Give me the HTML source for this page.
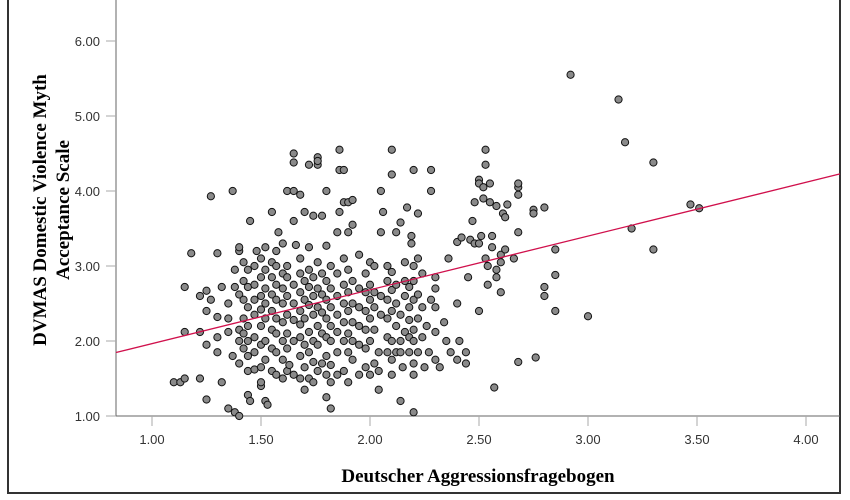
<!DOCTYPE html>
<html><head><meta charset="utf-8"><style>
html,body{margin:0;padding:0;background:#fff;}
svg{display:block;}
.tick{font-family:"Liberation Sans",sans-serif;font-size:13px;fill:#333;}
.ttl{font-family:"Liberation Serif",serif;font-size:19px;font-weight:bold;fill:#000;}
</style></head><body>
<svg id="chart" width="850" height="500" viewBox="0 0 850 500">
<rect x="8" y="-2" width="832" height="495" fill="#fff" stroke="#333" stroke-width="2"/>
<g id="grid"></g>
<g id="pts"></g>
<line id="fit" stroke="#d0104c" stroke-width="1.3"/>
<text class="ttl" x="478" y="482" text-anchor="middle">Deutscher Aggressionsfragebogen</text>
<g transform="translate(50,210) rotate(-90)">
<text class="ttl" x="0" y="-4" text-anchor="middle">DVMAS Domestic Violence Myth</text>
<text class="ttl" x="0" y="19" text-anchor="middle">Acceptance Scale</text>
</g>
</svg>
<script>
const xTicks=[1.0,1.5,2.0,2.5,3.0,3.5,4.0];
const yTicks=[1.0,2.0,3.0,4.0,5.0,6.0];
const fitIntercept=1.248;
const fitSlope=0.717;
const xVals=[1.10,1.13,1.15,1.15,1.15,1.18,1.22,1.22,1.22,1.25,1.25,1.25,1.25,1.27,1.27,1.30,1.30,1.30,1.30,1.32,1.32,1.35,1.35,1.35,1.35,1.37,1.37,1.38,1.38,1.38,1.40,1.40,1.40,1.40,1.40,1.40,1.40,1.42,1.42,1.42,1.42,1.42,1.42,1.44,1.44,1.44,1.44,1.44,1.44,1.44,1.44,1.45,1.45,1.47,1.47,1.47,1.47,1.47,1.47,1.47,1.48,1.50,1.50,1.50,1.50,1.50,1.50,1.50,1.50,1.50,1.52,1.52,1.52,1.52,1.52,1.52,1.52,1.52,1.53,1.55,1.55,1.55,1.55,1.55,1.55,1.55,1.55,1.57,1.57,1.57,1.57,1.57,1.57,1.57,1.57,1.58,1.60,1.60,1.60,1.60,1.60,1.60,1.60,1.60,1.62,1.62,1.62,1.62,1.62,1.62,1.62,1.62,1.63,1.65,1.65,1.65,1.65,1.65,1.65,1.65,1.65,1.65,1.66,1.68,1.68,1.68,1.68,1.68,1.68,1.68,1.68,1.68,1.70,1.70,1.70,1.70,1.70,1.70,1.70,1.72,1.72,1.72,1.72,1.72,1.72,1.72,1.72,1.74,1.74,1.74,1.74,1.74,1.74,1.74,1.76,1.76,1.76,1.76,1.76,1.76,1.76,1.76,1.76,1.78,1.78,1.78,1.78,1.78,1.78,1.80,1.80,1.80,1.80,1.80,1.80,1.80,1.80,1.80,1.82,1.82,1.82,1.82,1.82,1.82,1.82,1.82,1.85,1.85,1.85,1.85,1.85,1.85,1.85,1.86,1.86,1.86,1.88,1.88,1.88,1.88,1.88,1.88,1.88,1.88,1.90,1.90,1.90,1.90,1.90,1.90,1.90,1.90,1.92,1.92,1.92,1.92,1.92,1.92,1.92,1.95,1.95,1.95,1.95,1.95,1.95,1.98,1.98,1.98,1.98,1.98,1.98,2.00,2.00,2.00,2.00,2.00,2.00,2.02,2.02,2.02,2.02,2.02,2.04,2.04,2.04,2.05,2.05,2.05,2.05,2.06,2.08,2.08,2.08,2.08,2.08,2.08,2.10,2.10,2.10,2.10,2.10,2.10,2.10,2.10,2.12,2.12,2.12,2.12,2.12,2.14,2.14,2.14,2.14,2.14,2.15,2.16,2.16,2.16,2.16,2.17,2.18,2.18,2.18,2.18,2.18,2.19,2.19,2.20,2.20,2.20,2.20,2.20,2.20,2.20,2.20,2.20,2.22,2.22,2.22,2.22,2.22,2.24,2.24,2.24,2.25,2.26,2.27,2.28,2.28,2.28,2.30,2.30,2.30,2.30,2.30,2.32,2.34,2.35,2.36,2.37,2.40,2.40,2.40,2.41,2.42,2.44,2.44,2.45,2.46,2.47,2.48,2.48,2.50,2.50,2.50,2.50,2.51,2.52,2.52,2.53,2.53,2.53,2.54,2.54,2.55,2.55,2.56,2.56,2.57,2.58,2.58,2.58,2.60,2.60,2.60,2.61,2.62,2.62,2.63,2.66,2.68,2.68,2.68,2.68,2.68,2.75,2.75,2.76,2.80,2.80,2.80,2.85,2.85,2.85,2.92,3.00,3.14,3.17,3.20,3.30,3.30,3.47,3.51];
const yVals=[1.45,1.45,1.50,2.72,2.12,3.17,1.50,2.12,2.60,2.67,2.40,1.95,1.22,3.93,2.55,1.85,2.05,2.32,3.17,1.45,2.72,1.10,2.12,2.30,2.50,4.00,1.80,1.05,2.72,2.95,1.00,1.70,2.00,2.15,2.62,3.20,3.25,1.90,2.10,2.30,2.55,2.80,3.05,1.28,1.60,1.80,2.00,2.20,2.45,2.72,2.95,3.60,1.20,1.62,1.85,2.05,2.35,2.55,2.75,3.00,3.20,1.40,1.45,1.65,1.95,2.20,2.42,2.60,2.85,3.10,1.20,1.75,2.00,2.30,2.50,2.70,2.95,3.25,1.15,1.60,1.90,2.15,2.40,2.62,2.85,3.05,3.72,1.55,1.85,2.10,2.30,2.55,2.75,3.00,3.20,3.45,1.50,1.75,2.00,2.25,2.50,2.70,2.90,3.30,1.60,1.90,2.10,2.35,2.60,2.85,3.00,4.00,1.68,1.55,2.00,2.28,2.50,2.75,3.60,4.00,4.50,4.38,3.28,1.50,1.80,2.05,2.22,2.40,2.65,2.90,3.10,3.95,1.35,1.65,1.95,2.30,2.55,2.80,3.72,1.50,1.85,2.12,2.48,2.72,2.95,3.25,4.35,1.45,1.72,2.00,2.35,2.60,2.85,3.67,1.60,1.95,2.20,2.45,2.70,3.05,4.35,4.45,4.40,1.70,2.10,2.38,2.62,2.90,3.67,1.25,1.55,1.80,2.05,2.30,2.55,2.80,3.27,4.00,1.10,1.45,1.68,2.00,2.20,2.45,2.70,3.00,1.55,1.85,2.12,2.35,2.60,2.90,3.45,3.72,4.55,4.28,1.60,2.00,2.25,2.50,2.75,3.10,3.85,4.28,1.45,1.85,2.10,2.40,2.65,2.95,3.45,3.85,1.75,2.00,2.25,2.50,2.80,3.55,3.88,1.55,1.95,2.20,2.45,2.70,3.15,1.65,1.90,2.15,2.40,2.65,2.90,1.55,2.00,2.30,2.55,2.75,3.05,1.70,2.15,2.45,2.65,3.00,1.35,1.60,1.85,2.35,2.60,3.45,4.00,3.72,1.85,2.05,2.30,2.55,2.80,3.00,1.55,1.75,2.00,2.40,2.68,2.92,4.22,4.55,1.85,2.20,2.50,2.75,3.45,1.20,1.85,2.00,2.35,3.58,1.65,2.12,2.60,2.80,3.05,3.78,1.85,2.05,2.28,2.45,2.72,3.30,3.40,1.05,1.55,1.70,2.00,2.15,2.55,2.80,3.00,4.28,1.85,2.30,2.62,3.10,3.70,2.05,2.45,2.90,1.65,2.20,1.85,2.55,4.00,4.28,1.75,2.12,2.45,2.70,2.85,1.65,2.25,2.00,3.10,1.85,1.75,2.50,3.32,2.00,3.38,1.70,1.85,2.85,3.35,3.60,3.30,3.85,2.40,3.30,4.15,4.10,3.40,4.05,3.90,3.10,4.55,4.35,2.75,3.00,3.85,4.10,3.25,3.40,1.38,2.85,2.95,3.80,3.05,3.15,2.65,3.70,3.65,3.22,3.82,3.10,4.05,4.10,3.95,3.45,1.72,3.75,3.70,1.78,2.72,2.60,3.78,2.88,2.40,3.22,5.55,2.33,5.22,4.65,3.50,4.38,3.22,3.82,3.77];
const NS='http://www.w3.org/2000/svg';
const L=116,R=840,B=416;
function sx(v){return 152+(v-1)*218;}
function sy(v){return 416-(v-1)*75;}
const g=document.getElementById('grid');
function mk(tag,attrs,parent){const e=document.createElementNS(NS,tag);for(const k in attrs)e.setAttribute(k,attrs[k]);parent.appendChild(e);return e;}
const ax=mk('path',{d:`M${L} 0 V${B} H${R}`,fill:'none',stroke:'#666','stroke-width':1},g);


xTicks.forEach(t=>{
  const l=mk('line',{x1:sx(t),x2:sx(t),y1:B,y2:B+10,stroke:'#aaa'},g);
  
  
  const tx=mk('text',{x:sx(t),y:B+28,'text-anchor':'middle',class:'tick'},g);
  tx.textContent=t.toFixed(2);
  
  
});
yTicks.forEach(t=>{
  const l=mk('line',{x1:L-10,x2:L,y1:sy(t),y2:sy(t),stroke:'#aaa'},g);
  
  
  const tx=mk('text',{x:L-16,y:sy(t)+5,'text-anchor':'end',class:'tick'},g);
  tx.textContent=t.toFixed(2);
  
  
});
const pg=document.getElementById('pts');
for(let i=0;i<xVals.length;i++){
  const c=mk('circle',{cx:sx(xVals[i]),cy:sy(yVals[i]),r:3.6,fill:'#8a8a8a',stroke:'#111','stroke-width':1},pg);
  
  
}
const x0=(L-152)/218+1,x1=(R-152)/218+1;
const f=document.getElementById('fit');
f.setAttribute('x1',L);f.setAttribute('x2',R);
f.setAttribute('y1',sy(fitIntercept+fitSlope*x0));
f.setAttribute('y2',sy(fitIntercept+fitSlope*x1));
</script>
</body></html>
